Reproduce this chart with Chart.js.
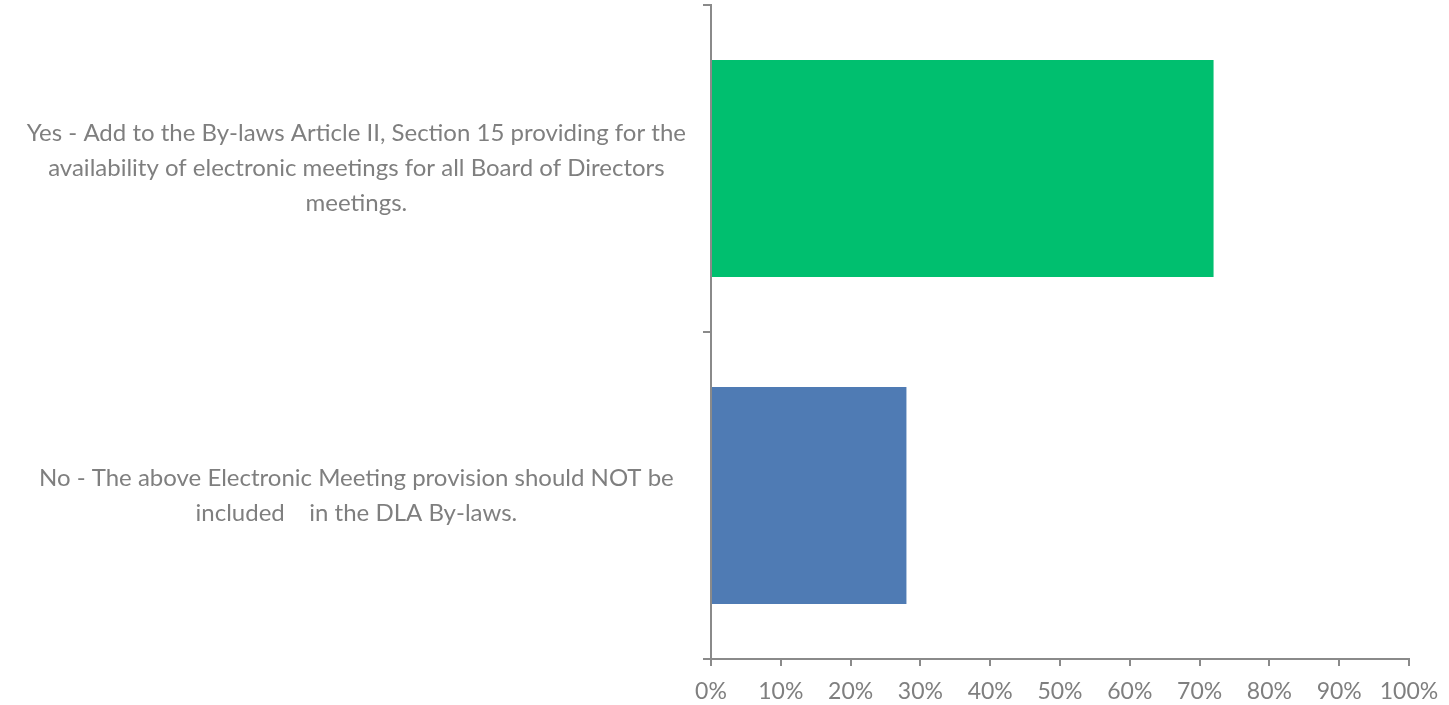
<!DOCTYPE html>
<html>
<head>
<meta charset="utf-8">
<script src="https://cdn.jsdelivr.net/npm/chart.js@4.4.1/dist/chart.umd.min.js"></script>
<style>
  html, body { margin:0; padding:0; background:#fff; }
  #wrap { width:1449px; height:705px; }
</style>
</head>
<body>
<div id="wrap"><canvas id="chart"></canvas></div>
<script>
// answer options (wrapped the way the original shows them)
const categories = [
  ['Yes - Add to the By-laws Article II, Section 15 providing for the', 'availability of electronic meetings for all Board of Directors', 'meetings.'],
  ['No - The above Electronic Meeting provision should NOT be', 'included    in the DLA By-laws.']
];
const percents = [72, 28];
const barColors = ['#00BF6F', '#4F7BB4'];
const xTickValues = [0, 10, 20, 30, 40, 50, 60, 70, 80, 90, 100];

const axisGray = '#8a8a8a';
const textGray = '#7f7f7f';
const fontFamily = 'Lato, "Open Sans", sans-serif';

new Chart(document.getElementById('chart'), {
  type: 'bar',
  data: {
    labels: categories,
    datasets: [{ data: percents, backgroundColor: barColors, borderWidth: 0, barPercentage: 0.664, categoryPercentage: 1 }]
  },
  options: {
    indexAxis: 'y',
    animation: false,
    responsive: true,
    maintainAspectRatio: false,
    layout: { padding: { top: 5, right: 40, left: 0, bottom: 0 } },
    plugins: { legend: { display: false }, tooltip: { enabled: false } },
    scales: {
      x: {
        min: 0, max: 100,
        afterBuildTicks: s => { s.ticks = xTickValues.map(v => ({ value: v })); },
        afterFit: s => { s.height = 46; s.paddingLeft = 0; s.paddingRight = 0; },
        border: { display: true, color: axisGray, width: 2 },
        grid: { drawOnChartArea: false, drawTicks: true, tickLength: 7, color: axisGray, lineWidth: 2 },
        ticks: { color: textGray, padding: 12, maxRotation: 0, autoSkip: false, font: { family: fontFamily, size: 23 }, callback: v => v + '%' }
      },
      y: {
        afterFit: s => { s.width = 711; s.paddingTop = 0; s.paddingBottom = 0; },
        border: { display: true, color: axisGray, width: 2 },
        grid: { drawOnChartArea: false, drawTicks: true, tickLength: 8, color: axisGray, lineWidth: 2 },
        ticks: { color: textGray, padding: 17, crossAlign: 'center', autoSkip: false, font: { family: fontFamily, size: 24, lineHeight: 35 / 24 } }
      }
    }
  }
});
</script>
</body>
</html>
